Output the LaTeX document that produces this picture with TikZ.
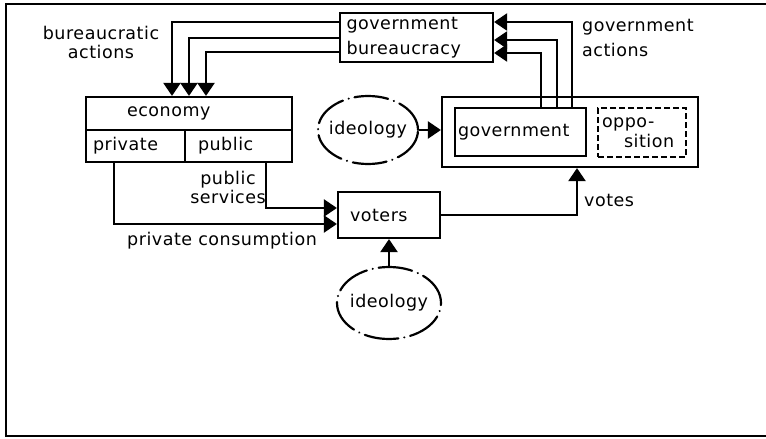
\documentclass[tikz,border=0pt]{standalone}
\usepackage{fontspec}
\setmainfont[LetterSpace=3]{DejaVu Sans}
\usetikzlibrary{arrows.meta,shapes.geometric}

\begin{document}
\begin{tikzpicture}[x=1pt,y=-1pt,
  every node/.style={font=\fontsize{17.5}{19}\selectfont, inner sep=0pt},
  box/.style={draw, line width=2.2pt},
  flow/.style={line width=2.4pt, -{Triangle[length=13pt,width=17pt]}},
  idea/.style={ellipse, draw, line width=2.2pt, line cap=round,
    dash pattern=on 34pt off 6pt on 0.1pt off 6pt,
    minimum width=100pt, minimum height=68pt, label=center:ideology},
  frame/.style={line width=2.6pt}
]
\useasboundingbox (0,0) rectangle (766,439);

% outer frame
\draw[frame] (766,4) -- (6,4) -- (6,436) -- (766,436);

% boxes
\node[box, minimum width=153pt, minimum height=49pt, text width=140pt,
  align=left, font=\fontsize{17.5}{25}\selectfont] (bur) at (416.5,37.5)
  {government\\bureaucracy};
\node[box, minimum width=206pt, minimum height=33pt, text width=124pt,
  align=left] (econ) at (189,113.5) {economy};
\node[box, minimum width=99pt, minimum height=32pt, text width=85pt,
  align=left] (priv) at (135.5,146) {private};
\node[box, minimum width=107pt, minimum height=32pt, text width=81pt,
  align=left] (pub) at (238.5,146) {public};
\node[box, minimum width=256pt, minimum height=70pt] (parl) at (570,132) {};
\node[box, minimum width=131pt, minimum height=48pt, text width=125pt,
  align=left] (gov) at (520.5,132) {government};
\node[box, dash pattern=on 6pt off 3pt, minimum width=88pt, minimum height=49pt,
  text width=80pt, align=left, font=\fontsize{17.5}{20}\selectfont] (opp) at (642,132.5)
  {oppo-\\\hspace*{22pt}sition};
\node[box, minimum width=102pt, minimum height=46pt, text width=78pt,
  align=left] (vot) at (389,215) {voters};
\node[idea] (ideo1) at (368,130) {};
\node[idea, minimum width=104pt, minimum height=72pt] (ideo2) at (389,303) {};

% labels
\node[align=center] (ba) at (101,42) {bureaucratic\\actions};
\node[align=left, anchor=west, font=\fontsize{17.5}{25}\selectfont] (ga) at (582,37.5) {government\\actions};
\node[align=center] (ps) at (228,187) {public\\services};
\node (pc) at (222,241) {private consumption};
\node[anchor=west] (vl) at (584,200) {votes};

% bureaucratic actions
\draw[flow] (bur.west |- 0,22) -| (econ.north -| 172,0);
\draw[flow] (bur.west |- 0,38) -| (econ.north -| 189,0);
\draw[flow] (bur.west |- 0,52) -| (econ.north -| 206,0);

% government actions
\draw[flow] (gov.north -| 572,0) |- (bur.east |- 0,22);
\draw[flow] (gov.north -| 557,0) |- (bur.east |- 0,40);
\draw[flow] (gov.north -| 541,0) |- (bur.east |- 0,53);

% flows to voters
\draw[flow] (pub.south -| 266,0) |- (vot.west |- 0,208);
\draw[flow] (priv.south -| 114,0) |- (vot.west |- 0,224);

% votes
\draw[flow] (vot.east) -| (parl.south -| 577,0);

% ideology
\draw[flow] (ideo1.east) -- (ideo1.east -| parl.west);
\draw[flow] (ideo2.north) -- (vot.south);
\end{tikzpicture}
\end{document}
